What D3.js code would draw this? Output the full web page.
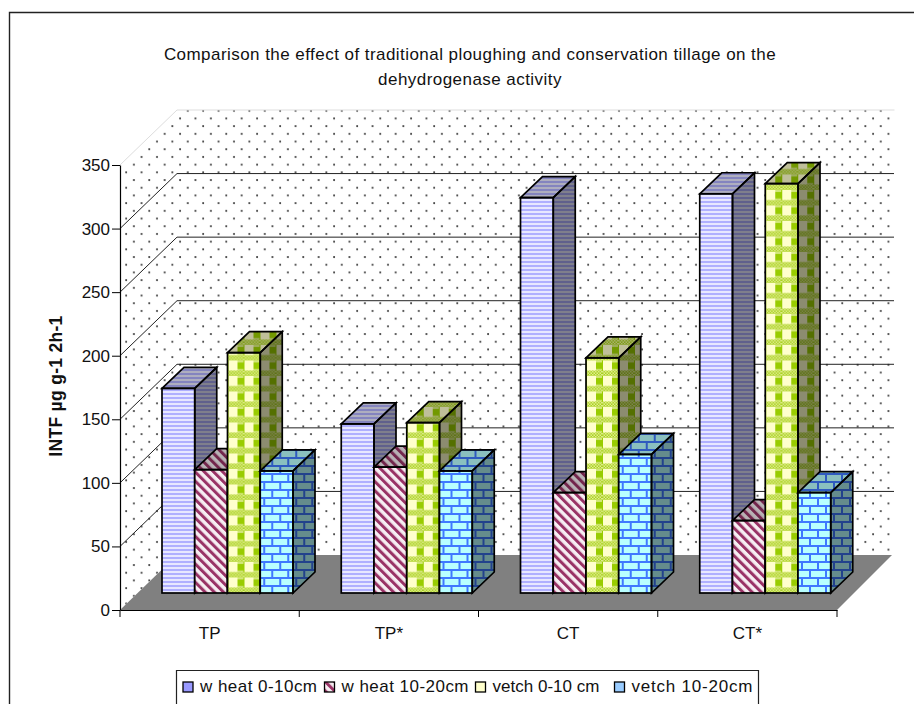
<!DOCTYPE html>
<html>
<head>
<meta charset="utf-8">
<script src="https://cdnjs.cloudflare.com/ajax/libs/d3/7.8.5/d3.min.js"></script>
<style>
    body { margin: 0; background: #fff; overflow: hidden; }
    text { font-family: "Liberation Sans", Arial, sans-serif; fill: #111; }
    .tick text { font-size: 17px; }
    .axis path, .axis line { stroke: #000; }
</style>
</head>
<body>
<svg class="chart" width="914" height="704"></svg>
<script>
const categories = ['TP', 'TP*', 'CT', 'CT*'];
const seriesNames = ['w heat 0-10cm', 'w heat 10-20cm', 'vetch 0-10 cm', 'vetch 10-20cm'];
const wheat0to10 = [161, 133, 311, 314];
const wheat10to20 = [97, 99, 79, 57];
const vetch0to10 = [189, 134, 185, 322];
const vetch10to20 = [96, 96, 109, 79];
const yTicks = [0, 50, 100, 150, 200, 250, 300, 350];
const titleLines = [
    'Comparison the effect of traditional ploughing and conservation tillage on the',
    'dehydrogenase activity'
];

const allSeries = [wheat0to10, wheat10to20, vetch0to10, vetch10to20];

const left = 120;
const right = 837;
const wallDx = 57;   // how far the back wall sits from the front of the floor
const wallDy = 55;
const barShiftDx = 17;   // bars stand a bit behind the front edge
const barShiftDy = 17;
const barDx = 22;    // bar depth
const barDy = 21;
const barStroke = 1.7;

const svg = d3.select('svg.chart');
const defs = svg.append('defs');

// background dots
const dots = defs.append('pattern').attr('id', 'dots')
    .attr('patternUnits', 'userSpaceOnUse').attr('width', 15.4).attr('height', 15.4);
dots.append('circle').attr('cx', 3).attr('cy', 3).attr('r', 1).attr('fill', '#333');
dots.append('circle').attr('cx', 10.7).attr('cy', 10.7).attr('r', 1).attr('fill', '#333');

// wheat 0-10 horizontal stripes
const stripes = defs.append('pattern').attr('id', 'p0')
    .attr('patternUnits', 'userSpaceOnUse').attr('width', 4).attr('height', 4);
stripes.append('rect').attr('width', 4).attr('height', 4).attr('fill', '#e8e8ff');
stripes.append('rect').attr('width', 4).attr('height', 2).attr('fill', '#b0b0ff');

// wheat 10-20 diagonal stripes
const diag = defs.append('pattern').attr('id', 'p1')
    .attr('patternUnits', 'userSpaceOnUse').attr('width', 6.5).attr('height', 6.5)
    .attr('patternTransform', 'rotate(-45)');
diag.append('rect').attr('width', 6.5).attr('height', 6.5).attr('fill', '#f6eef2');
diag.append('rect').attr('width', 3).attr('height', 6.5).attr('fill', '#993366');

// fine dither used in the gingham bands
const dither = defs.append('pattern').attr('id', 'dither')
    .attr('patternUnits', 'userSpaceOnUse').attr('width', 3).attr('height', 3);
dither.append('rect').attr('width', 3).attr('height', 3).attr('fill', '#e2ee90');
dither.append('rect').attr('width', 1.5).attr('height', 1.5).attr('fill', '#a8d020');
dither.append('rect').attr('x', 1.5).attr('y', 1.5).attr('width', 1.5).attr('height', 1.5).attr('fill', '#a8d020');

// vetch 0-10 gingham
const check = defs.append('pattern').attr('id', 'p2')
    .attr('patternUnits', 'userSpaceOnUse').attr('width', 16).attr('height', 15.5);
check.append('rect').attr('width', 16).attr('height', 15.5).attr('fill', '#ffffcc');
check.append('rect').attr('x', 10).attr('width', 6).attr('height', 15.5).attr('fill', '#d2e67a');
check.append('rect').attr('width', 1).attr('height', 15.5).attr('fill', '#99cc00');
check.append('rect').attr('y', 10).attr('width', 16).attr('height', 5.5).attr('fill', 'url(#dither)');
check.append('rect').attr('x', 10).attr('y', 2).attr('width', 6).attr('height', 6.5).attr('fill', '#99cc00');

// vetch 10-20 bricks
const brick = defs.append('pattern').attr('id', 'p3')
    .attr('patternUnits', 'userSpaceOnUse').attr('width', 16).attr('height', 16);
brick.append('rect').attr('width', 16).attr('height', 16).attr('fill', '#b8ffff');
brick.append('path')
    .attr('d', 'M0,1H16M0,9H16M4,1V9M12,9V16')
    .attr('stroke', '#3f78ff').attr('stroke-width', 2).attr('fill', 'none');

const y = d3.scaleLinear().domain([0, 350]).range([610, 165]);
const x = d3.scaleBand().domain(categories).range([left, right]);
const bars = d3.scaleBand().domain(d3.range(seriesNames.length))
    .range([0, 131]);

const poly = (points) => 'M' + points.map(p => p.join(',')).join('L') + 'Z';

// walls
svg.append('rect')
    .attr('x', left + wallDx).attr('y', y(350) - wallDy)
    .attr('width', right - left).attr('height', y(0) - y(350))
    .attr('fill', 'url(#dots)');
svg.append('path')
    .attr('d', poly([[left, y(0)], [left, y(350)], [left + wallDx, y(350) - wallDy], [left + wallDx, y(0) - wallDy]]))
    .attr('fill', 'url(#dots)');
svg.append('path')
    .attr('d', `M${left},${y(350)}L${left + wallDx},${y(350) - wallDy}H${right + wallDx + 0.5}`)
    .attr('fill', 'none').attr('stroke', '#ddd');

// floor
svg.append('path')
    .attr('d', poly([[left, y(0)], [right, y(0)], [right + wallDx - 2, y(0) - wallDy], [left + wallDx, y(0) - wallDy]]))
    .attr('fill', '#808080');

// gridlines
yTicks.filter(t => t > 0 && t < 350).forEach(t => {
    svg.append('path')
        .attr('d', `M${left},${y(t)}L${left + wallDx},${y(t) - wallDy}H${right + wallDx}`)
        .attr('fill', 'none').attr('stroke', '#222').attr('stroke-width', 1);
});

// axes
svg.append('g')
    .attr('class', 'axis')
    .attr('transform', `translate(${left},0)`)
    .call(d3.axisLeft(y).tickValues(yTicks).tickSize(8).tickPadding(2).tickSizeOuter(0))
    .select('.domain').attr('stroke-width', 1.2);

const xAxis = svg.append('g')
    .attr('class', 'axis')
    .attr('transform', `translate(0,${y(0)})`)
    .call(d3.axisBottom(x).tickSize(0).tickPadding(17).tickSizeOuter(0));
xAxis.select('.domain').attr('stroke-width', 1.2);
xAxis.selectAll('.tick line').remove();
xAxis.selectAll('line.sep')
    .data(d3.range(categories.length + 1))
    .join('line')
    .attr('class', 'sep')
    .attr('x1', i => left + i * x.step())
    .attr('x2', i => left + i * x.step())
    .attr('y2', 7);

// bars, left to right so the later ones overlap the earlier ones
// each bar has its own origin at bottom left so the patterns line up per bar
categories.forEach((cat, c) => {
    allSeries.forEach((values, s) => {
        const x0 = x(cat) + 25 + barShiftDx + bars(s);
        const w = bars.bandwidth();
        const h = y(0) - y(values[c]);
        const g = svg.append('g')
            .attr('transform', `translate(${x0},${y(0) - barShiftDy})`);

        const side = poly([[w, -h], [w + barDx, -h - barDy], [w + barDx, -barDy], [w, 0]]);
        const top = poly([[0, -h], [barDx, -h - barDy], [w + barDx, -h - barDy], [w, -h]]);

        g.append('path').attr('d', side).attr('fill', `url(#p${s})`);
        g.append('path').attr('d', side).attr('fill', '#000').attr('fill-opacity', 0.45);
        g.append('path').attr('d', top).attr('fill', `url(#p${s})`);
        g.append('path').attr('d', top).attr('fill', '#000').attr('fill-opacity', 0.25);
        g.append('rect')
            .attr('y', -h)
            .attr('width', w).attr('height', h)
            .attr('fill', `url(#p${s})`);
        // outlines
        [side, top].forEach(d => g.append('path').attr('d', d)
            .attr('fill', 'none').attr('stroke', '#000').attr('stroke-width', barStroke));
        g.append('rect')
            .attr('y', -h)
            .attr('width', w).attr('height', h)
            .attr('fill', 'none').attr('stroke', '#000').attr('stroke-width', barStroke);
    });
});

// title
svg.selectAll('text.title')
    .data(titleLines)
    .join('text')
    .attr('class', 'title')
    .attr('x', 470)
    .attr('y', (d, i) => 60 + i * 25)
    .attr('text-anchor', 'middle')
    .attr('font-size', 17)
    .attr('letter-spacing', 0.45)
    .text(d => d);

// y-axis title
svg.append('text')
    .attr('transform', 'translate(62,386)rotate(-90)')
    .attr('text-anchor', 'middle')
    .attr('font-size', 17.5)
    .attr('font-weight', 'bold')
    .attr('letter-spacing', 0.3)
    .text('INTF µg g-1 2h-1');

// legend, the box is cut off by the bottom of the picture
svg.append('path')
    .attr('d', 'M176.5,704V670.5H758.5V704')
    .attr('fill', '#fff').attr('stroke', '#222').attr('stroke-width', 1.2);

const legendX = [183, 324.5, 475.5, 614.5];
const legendTextWidth = [117, 127, 107, 121];
const swatchFill = ['#9999ff', 'url(#p1)', '#ffffcc', '#99ccff'];
seriesNames.forEach((name, i) => {
    svg.append('rect')
        .attr('x', legendX[i]).attr('y', 682)
        .attr('width', 10).attr('height', 10)
        .attr('fill', swatchFill[i]).attr('stroke', '#000').attr('stroke-width', 1.3);
    svg.append('text')
        .attr('x', legendX[i] + 17).attr('y', 692)
        .attr('font-size', 17)
        .attr('textLength', legendTextWidth[i])
        .text(name);
});

// outer frame, runs off the right and bottom of the picture
svg.append('path')
    .attr('d', 'M9.5,704V12.5H914')
    .attr('fill', 'none').attr('stroke', '#222').attr('stroke-width', 1.4);
</script>
</body>
</html>
